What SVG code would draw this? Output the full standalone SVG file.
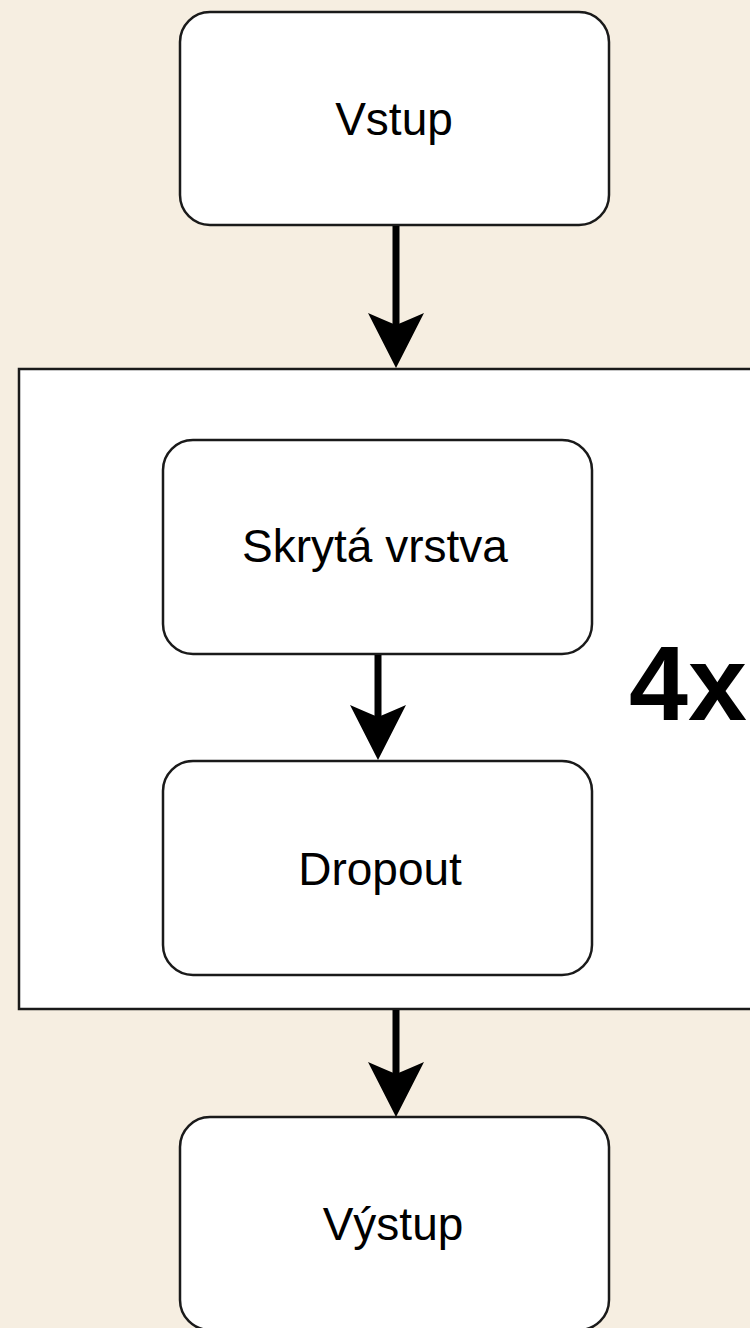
<svg xmlns="http://www.w3.org/2000/svg" width="750" height="1328" viewBox="0 0 750 1328">
<defs>
<style>
.box{fill:#ffffff;stroke:#1a1a1a;stroke-width:2.5}
.lbl{font-family:"Liberation Sans",Arial,sans-serif;font-size:46px;fill:#000;text-anchor:middle}
.big{font-family:"Liberation Sans",Arial,sans-serif;font-size:106px;font-weight:bold;fill:#000}
.edge{stroke:#000;stroke-width:7;fill:none}
.head{fill:#000}
</style>
</defs>
<rect x="0" y="0" width="750" height="1328" fill="#f6eee1"/>
<g id="repeat-block">
<rect x="19" y="369" width="760" height="640" fill="#ffffff" stroke="#1a1a1a" stroke-width="2.5"/>
<text class="big" x="629" y="720">4x</text>
</g>
<g id="node-vstup">
<rect class="box" x="180" y="12" width="429" height="213" rx="30" ry="30"/>
<text class="lbl" x="394" y="135">Vstup</text>
</g>
<g id="node-skryta">
<rect class="box" x="163" y="440" width="429" height="214" rx="30" ry="30"/>
<text class="lbl" x="375" y="562">Skrytá vrstva</text>
</g>
<g id="node-dropout">
<rect class="box" x="163" y="761" width="429" height="214" rx="30" ry="30"/>
<text class="lbl" x="380" y="885">Dropout</text>
</g>
<g id="node-vystup">
<rect class="box" x="180" y="1117" width="429" height="213" rx="30" ry="30"/>
<text class="lbl" x="393" y="1240">Výstup</text>
</g>
<g id="connectors">
<line class="edge" x1="396" y1="226" x2="396" y2="330"/>
<path class="head" d="M396,368 L368,313 Q384,320 396,325 Q408,320 424,313 Z"/>
<line class="edge" x1="378" y1="655" x2="378" y2="720"/>
<path class="head" d="M378,760 L350,705 Q366,712 378,717 Q390,712 406,705 Z"/>
<line class="edge" x1="396" y1="1010" x2="396" y2="1077"/>
<path class="head" d="M396,1117 L368,1062 Q384,1069 396,1074 Q408,1069 424,1062 Z"/>
</g>
</svg>
